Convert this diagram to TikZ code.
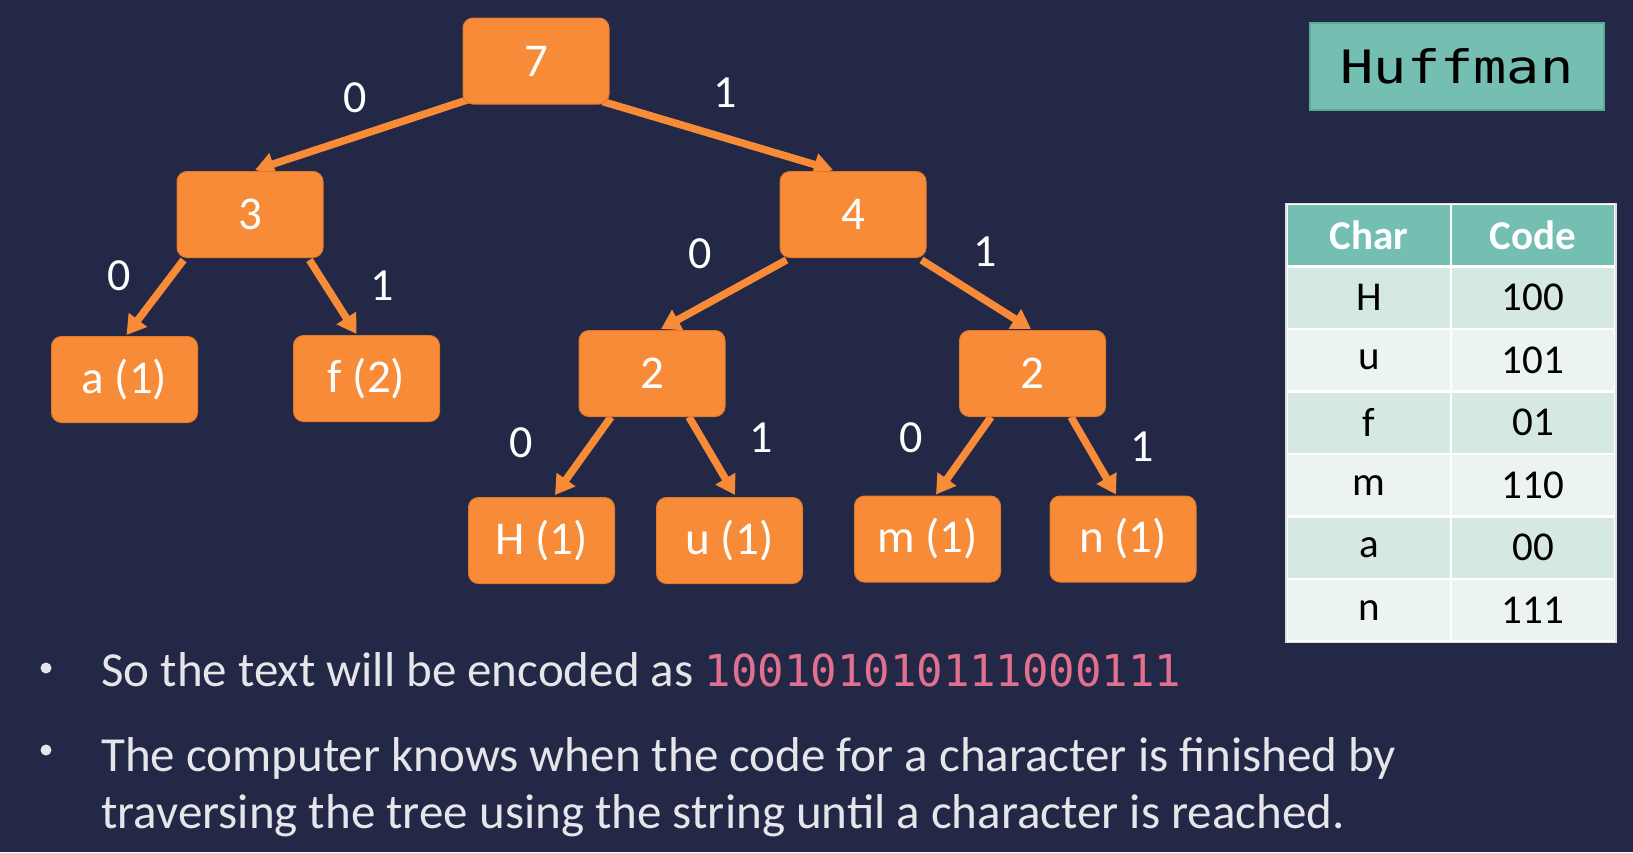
\documentclass[tikz,border=0pt]{standalone}
\usepackage{fontspec}
\setmainfont{Carlito}
\newfontfamily\monofont{DejaVu Sans Mono}
\usetikzlibrary{arrows.meta}
\definecolor{bgc}{HTML}{232846}
\definecolor{org}{HTML}{F78B38}
\definecolor{orgd}{HTML}{E27A2C}
\definecolor{teal}{HTML}{74BFB1}
\definecolor{teald}{HTML}{5DA898}
\definecolor{rowa}{HTML}{D6E8E4}
\definecolor{rowb}{HTML}{EBF4F2}
\definecolor{pinkc}{HTML}{E0708E}
\definecolor{txt}{HTML}{E6E6EA}
\pgfdeclarelayer{bg}
\pgfsetlayers{bg,main}
\tikzset{
  tnode/.style={rectangle, rounded corners=10pt, fill=org, draw=orgd, line width=1pt,
    minimum width=146pt, minimum height=86pt, text=white, inner sep=0pt,
    font=\fontsize{47}{56}\selectfont},
  edge/.style={org, line width=7.5pt, -{Triangle[length=19pt,width=22pt]}},
  elabel/.style={text=white, inner sep=0pt, font=\fontsize{46}{55}\selectfont},
  cell/.style={rectangle, minimum width=164pt, minimum height=62.5pt, inner sep=0pt,
    draw=white, line width=2.5pt, font=\fontsize{41}{48}\selectfont, text=black},
  hcell/.style={cell, fill=teal, text=white, font=\fontsize{41}{48}\selectfont\bfseries},
  btext/.style={anchor=base west, inner sep=0pt, text=txt, font=\fontsize{49}{59}\selectfont},
  bullet/.style={circle, fill=txt, inner sep=0pt, minimum size=11pt}
}
\begin{document}
\begin{tikzpicture}[x=1pt,y=-1pt]
\begin{pgfonlayer}{bg}
\fill[bgc] (0,0) rectangle (1633,852);
\end{pgfonlayer}
\useasboundingbox (0,0) rectangle (1633,852);

% tree nodes
\node[tnode] (n7) at (536,61) {7};
\node[tnode] (n3) at (250,214.5) {3};
\node[tnode] (n4) at (853,214.5) {4};
\node[tnode] (na) at (124.5,379.5) {a (1)};
\node[tnode] (nf) at (366.5,378.5) {f (2)};
\node[tnode] (nl) at (652,373.5) {2};
\node[tnode] (nr) at (1032.5,373.5) {2};
\node[tnode] (nH) at (541.5,540.5) {H (1)};
\node[tnode] (nu) at (729.5,540.5) {u (1)};
\node[tnode] (nm) at (927.5,539) {m (1)};
\node[tnode] (nn) at (1123,539) {n (1)};

% edges
\begin{pgfonlayer}{bg}
\draw[edge] ([shift={(6,-5)}]n7.south west) -- ([shift={(5,-1)}]n3.north);
\draw[edge] ([shift={(-7,-3)}]n7.south east) -- ([shift={(-20,-1)}]n4.north);
\draw[edge] ([shift={(7,2)}]n3.south west) -- ([shift={(2,-1)}]na.north);
\draw[edge] ([shift={(-14,2)}]n3.south east) -- ([shift={(-10,-1)}]nf.north);
\draw[edge] ([shift={(7,2)}]n4.south west) -- ([shift={(9,-1)}]nl.north);
\draw[edge] ([shift={(-5,2)}]n4.south east) -- ([shift={(-1.5,-1)}]nr.north);
\draw[edge] ([shift={(-41,0)}]nl.south) -- ([shift={(13.5,-2)}]nH.north);
\draw[edge] ([shift={(37,0)}]nl.south) -- ([shift={(5.5,-2)}]nu.north);
\draw[edge] ([shift={(-41.5,0)}]nr.south) -- ([shift={(8.5,-1)}]nm.north);
\draw[edge] ([shift={(38.5,0)}]nr.south) -- ([shift={(-7,-1)}]nn.north);
\end{pgfonlayer}

% edge labels
\node[elabel] (l1) at (355,98) {0};
\node[elabel] (l2) at (725,93) {1};
\node[elabel] (l3) at (119,276) {0};
\node[elabel] (l4) at (382,286) {1};
\node[elabel] (l5) at (700,254) {0};
\node[elabel] (l6) at (985,252) {1};
\node[elabel] (l7) at (521,443) {0};
\node[elabel] (l8) at (761,438) {1};
\node[elabel] (l9) at (911,438) {0};
\node[elabel] (l10) at (1142,447) {1};

% Huffman title
\node[rectangle, fill=teal, draw=teald, line width=1.2pt, minimum width=294pt, minimum height=87pt,
  inner sep=0pt, text=black] (title) at (1457,66.5)
  {\scalebox{1.2}[1]{\monofont\fontsize{46}{52}\selectfont Huffman}};

% table
\fill[rowa] (1286,204) rectangle (1616,643);
\node[hcell] (h1) at (1369,235.25) {Char};
\node[hcell] (h2) at (1533,235.25) {Code};
\node[cell, fill=rowa] (r1a) at (1369,297.75) {H};
\node[cell, fill=rowa] (r1b) at (1533,297.75) {100};
\node[cell, fill=rowb] (r2a) at (1369,360.25) {u};
\node[cell, fill=rowb] (r2b) at (1533,360.25) {101};
\node[cell, fill=rowa] (r3a) at (1369,422.75) {f};
\node[cell, fill=rowa] (r3b) at (1533,422.75) {01};
\node[cell, fill=rowb] (r4a) at (1369,485.25) {m};
\node[cell, fill=rowb] (r4b) at (1533,485.25) {110};
\node[cell, fill=rowa] (r5a) at (1369,547.75) {a};
\node[cell, fill=rowa] (r5b) at (1533,547.75) {00};
\node[cell, fill=rowb] (r6a) at (1369,610.25) {n};
\node[cell, fill=rowb] (r6b) at (1533,610.25) {111};
\draw[line width=1.5pt, color=white!75!gray] (1286,203.5) rectangle (1616,642.5);

% bullets
\node[bullet] (b1) at (46,668) {};
\node[bullet] (b2) at (46,750) {};
\node[btext] (t1) at (101,686) {So the text will be encoded as {\monofont\fontsize{44}{52}\selectfont\color{pinkc}100101010111000111}};
\node[btext] (t2) at (101,771) {The computer knows when the code for a character is finished by};
\node[btext] (t3) at (101,828) {traversing the tree using the string until a character is reached.};
\end{tikzpicture}
\end{document}
